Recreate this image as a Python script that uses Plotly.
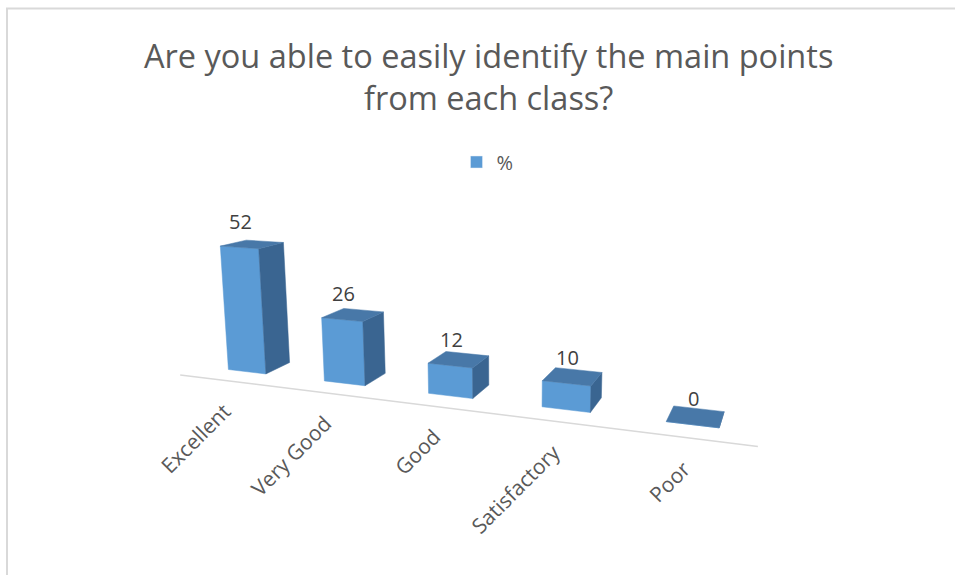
import numpy as np
import plotly.graph_objects as go

# ---------------- data ----------------
categories = ["Excellent", "Very Good", "Good", "Satisfactory", "Poor"]
values = [52, 26, 12, 10, 0]
series_name = "%"
title_lines = ["Are you able to easily identify the main points", "from each class?"]

# ---------------- style / camera ----------------
# perspective camera (3x4 projection: world (category, depth, value) -> page pixels)
CAMERA = np.array([
    [84.9799, 92.3274, -0.282248, 180.22],
    [-3.69744, 12.3538, -2.56171, 374.97],
    [-0.0403124, 0.113098, -0.000556575, 1.0],
])
FRONT = "#5B9BD5"
SIDE = "#3A6591"
TOP = "#4878A8"
BAR_X0, BAR_X1 = 0.3, 0.7     # bar extent inside its category slot
BAR_D0, BAR_D1 = 0.3, 0.7     # bar extent in depth
FONT = "Open Sans"


def proj(X, Y, Z):
    h = CAMERA @ np.array([X, Y, Z, 1.0])
    return h[0] / h[2], h[1] / h[2]


def poly(pts):
    xs, ys = zip(*[proj(*p) for p in pts])
    return list(xs) + [xs[0], None], list(ys) + [ys[0], None]


fx, fy, sx, sy, tx, ty = [], [], [], [], [], []
for i, v in enumerate(values):
    a, b = i + BAR_X0, i + BAR_X1
    x, y = poly([(a, BAR_D0, 0), (b, BAR_D0, 0), (b, BAR_D0, v), (a, BAR_D0, v)]); fx += x; fy += y
    x, y = poly([(b, BAR_D0, 0), (b, BAR_D1, 0), (b, BAR_D1, v), (b, BAR_D0, v)]); sx += x; sy += y
    x, y = poly([(a, BAR_D0, v), (b, BAR_D0, v), (b, BAR_D1, v), (a, BAR_D1, v)]); tx += x; ty += y

fig = go.Figure()
bx, by = zip(proj(0, 0, 0), proj(len(categories), 0, 0))
fig.add_trace(go.Scatter(x=list(bx), y=list(by), mode="lines", line=dict(color="#D9D9D9", width=1.5),
                         showlegend=False, hoverinfo="skip"))
for xs, ys, col in [(fx, fy, FRONT), (sx, sy, SIDE), (tx, ty, TOP)]:
    fig.add_trace(go.Scatter(x=xs, y=ys, mode="lines", fill="toself", fillcolor=col,
                             line=dict(color=col, width=0.5), showlegend=False, hoverinfo="skip"))
fig.add_trace(go.Bar(x=[None], y=[None], name=series_name, marker_color=FRONT, showlegend=True))

ann = []
for i, (c, v) in enumerate(zip(categories, values)):
    px, py = proj(i + 0.5, BAR_D0, v)
    ann.append(dict(x=px + 1, y=py - 26, text=str(v), showarrow=False, xanchor="center", yanchor="middle",
                    font=dict(family=FONT, size=20, color="#404040")))
    lx, ly = proj(i + 0.5, 0, 0)
    ann.append(dict(x=lx + 12, y=ly + 14, text=c, showarrow=False, textangle=-45,
                    xanchor="right", yanchor="top",
                    font=dict(family=FONT, size=21, color="#595959")))
ann.append(dict(x=488, y=55, text=title_lines[0], showarrow=False,
                font=dict(family=FONT, size=32.5, color="#595959")))
ann.append(dict(x=488, y=97, text=title_lines[1], showarrow=False,
                font=dict(family=FONT, size=32.5, color="#595959")))

fig.update_layout(
    width=955, height=575, margin=dict(l=0, r=0, t=0, b=0),
    paper_bgcolor="white", plot_bgcolor="white",
    xaxis=dict(range=[0, 955], visible=False, fixedrange=True),
    yaxis=dict(range=[575, 0], visible=False, fixedrange=True),
    annotations=ann,
    legend=dict(orientation="h", x=0.478, y=1 - 162 / 575, xanchor="left", yanchor="middle",
                font=dict(family=FONT, size=20, color="#595959"), bgcolor="rgba(0,0,0,0)"),
    shapes=[dict(type="line", x0=7, x1=7, y0=8, y1=575, line=dict(color="#D9D9D9", width=2)),
            dict(type="line", x0=6, x1=955, y0=8.5, y1=8.5, line=dict(color="#D9D9D9", width=2))],
)
fig.write_html("out.html", config={"displayModeBar": False},
               post_script="document.body.style.margin='0px';")
